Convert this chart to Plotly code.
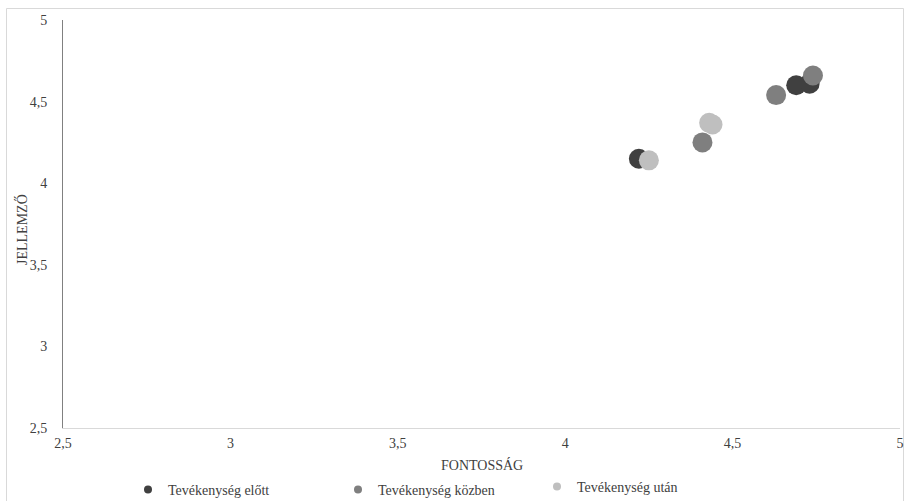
import plotly.graph_objects as go

series_names = ["Tevékenység előtt", "Tevékenység közben", "Tevékenység után"]
fontossag = [
    [4.22, 4.69, 4.73],
    [4.41, 4.63, 4.74],
    [4.25, 4.43, 4.44],
]
jellemzo = [
    [4.15, 4.60, 4.61],
    [4.25, 4.54, 4.66],
    [4.14, 4.37, 4.36],
]
colors = ["#404040", "#7f7f7f", "#bfbfbf"]
legend_ids = ["legend", "legend", "legend2"]
tick_vals = [2.5, 3, 3.5, 4, 4.5, 5]
x_title = "FONTOSSÁG"
y_title = "JELLEMZŐ"

fig = go.Figure()
for name, xs, ys, c in zip(series_names, fontossag, jellemzo, colors):
    fig.add_trace(go.Scatter(x=xs, y=ys, mode="markers", name=name, showlegend=False,
                             marker=dict(size=20, color=c, line=dict(width=0))))
for name, c, lg in zip(series_names, colors, legend_ids):
    fig.add_trace(go.Scatter(x=[None], y=[None], mode="markers", name=name, legend=lg,
                             marker=dict(size=8, color=c)))

font = "Liberation Serif, Times New Roman, serif"
txt = "#404040"
W, H = 905, 501
L, R, T, B = 63, 5, 20, 73
PW, PH = W - L - R, H - T - B
fig.update_layout(
    width=W, height=H,
    margin=dict(l=L, r=R, t=T, b=B),
    paper_bgcolor="white", plot_bgcolor="white",
    separators=", ",
    font=dict(family=font, size=14, color=txt),
    xaxis=dict(range=[2.5, 5], tickvals=tick_vals, showgrid=False, zeroline=False,
               showline=True, linecolor="#d9d9d9", linewidth=1, ticks="", automargin=False,
               ticklabelstandoff=2, ticklabeloverflow="allow", tickfont=dict(size=14)),
    yaxis=dict(range=[2.5, 5], tickvals=tick_vals, showgrid=False, zeroline=False,
               showline=True, linecolor="#808080", linewidth=1, ticks="", automargin=False,
               ticklabelstandoff=12, ticklabeloverflow="allow", tickfont=dict(size=14)),
    legend=dict(orientation="h", x=(128 - L) / PW, xanchor="left",
                yref="container", y=1 - 490 / H, yanchor="middle",
                entrywidth=165, entrywidthmode="pixels",
                font=dict(size=14, color=txt), bgcolor="rgba(0,0,0,0)"),
    legend2=dict(orientation="h", x=(537 - L) / PW, xanchor="left",
                 yref="container", y=1 - 487 / H, yanchor="middle",
                 font=dict(size=14, color=txt), bgcolor="rgba(0,0,0,0)"),
    annotations=[
        dict(text=x_title, xref="paper", yref="paper", x=0.5, y=-(465 - (T + PH)) / PH,
             xanchor="center", yanchor="middle", showarrow=False, font=dict(size=14, color=txt)),
        dict(text=y_title, xref="paper", yref="paper", x=(22 - L) / PW, y=(T + PH - 230) / PH,
             xanchor="center", yanchor="middle", textangle=-90, showarrow=False,
             font=dict(size=14, color=txt)),
    ],
    shapes=[dict(type="rect", xref="paper", yref="paper",
                 x0=(6.5 - L) / PW, x1=(903.5 - L) / PW, y0=-(H + 5 - T - PH) / PH,
                 y1=1 + (T - 8.5) / PH,
                 line=dict(color="#d9d9d9", width=1), fillcolor="rgba(0,0,0,0)", layer="below")],
)
fig.write_html("out.html", config={"displayModeBar": False},
               post_script="document.body.style.margin='0';")
